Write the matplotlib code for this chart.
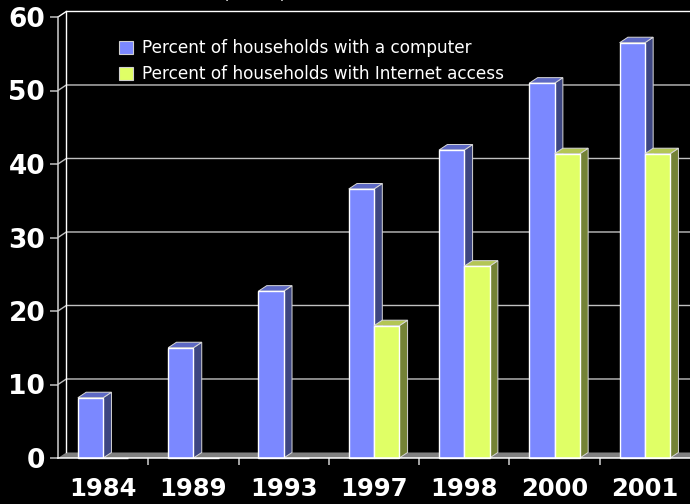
import matplotlib
matplotlib.use("Agg")
import matplotlib.pyplot as plt
from matplotlib.patches import Polygon, Patch
import numpy as np

# ---- data ----
years = ["1984", "1989", "1993", "1997", "1998", "2000", "2001"]
computer = [8.2, 15.0, 22.7, 36.6, 41.9, 51.0, 56.5]
internet = [np.nan, np.nan, np.nan, 18.0, 26.1, 41.4, 41.4]
series_labels = ["Percent of households with a computer",
                 "Percent of households with Internet access"]
yticks = [0, 10, 20, 30, 40, 50, 60]

# ---- style ----
BLUE_FRONT, BLUE_SIDE, BLUE_TOP = "#7B88FF", "#3D4681", "#5E69C4"
YEL_FRONT, YEL_SIDE, YEL_TOP = "#E0FF66", "#748236", "#B3C655"
FLOOR = "#808080"
GRID = "#C0C0C0"
BAR_W = 0.28
DX, DY = 0.092, 0.75   # pseudo-3D depth in data units

fig = plt.figure(figsize=(6.9, 5.04), dpi=100, facecolor="black")
ax = fig.add_axes([58 / 690, 46 / 504, 632 / 690, 441 / 504])
ax.set_facecolor("black")
ax.patch.set_alpha(0)
ax.set_xlim(-0.5, len(years) - 0.5)
ax.set_ylim(0, 60)

x = np.arange(len(years))
xl, xr = -0.5, len(years) - 0.5

# floor
ax.add_patch(Polygon([(xl, 0), (xr, 0), (xr + DX, DY), (xl + DX, DY)],
                     closed=True, facecolor=FLOOR, edgecolor="none",
                     zorder=1, clip_on=False))
# back wall gridlines (with side-wall diagonal)
for v in yticks[1:]:
    ax.plot([xl, xl + DX, xr + DX], [v, v + DY, v + DY],
            color="white" if v == 60 else GRID, lw=1.0, zorder=1.5,
            clip_on=False, solid_capstyle="butt")
ax.plot([xl + DX, xl + DX], [DY, 60 + DY], color="white", lw=1.0,
        zorder=1.5, clip_on=False)


def draw_bars(xs, vals, front, side, top, z):
    for xc, v in zip(xs, vals):
        if np.isnan(v):
            continue
        x0, x1 = xc, xc + BAR_W
        ax.add_patch(Polygon([(x1, 0), (x1 + DX, DY), (x1 + DX, v + DY), (x1, v)],
                             closed=True, facecolor=side, edgecolor="#D8D8D8",
                             lw=0.7, zorder=z, clip_on=False))
        ax.add_patch(Polygon([(x0, v), (x1, v), (x1 + DX, v + DY), (x0 + DX, v + DY)],
                             closed=True, facecolor=top, edgecolor="#D8D8D8",
                             lw=0.7, zorder=z, clip_on=False))
    ax.bar(np.asarray(xs) + BAR_W / 2, np.nan_to_num(vals), width=BAR_W,
           color=front, edgecolor="white", lw=1.0, zorder=z + 0.1,
           clip_on=False)


draw_bars(x - BAR_W, computer, BLUE_FRONT, BLUE_SIDE, BLUE_TOP, 3)
draw_bars(x, internet, YEL_FRONT, YEL_SIDE, YEL_TOP, 4)

# spines / ticks
for s in ["top", "right"]:
    ax.spines[s].set_visible(False)
ax.spines["left"].set_color("#D0D0D0")
ax.spines["bottom"].set_color("white")
ax.spines["left"].set_linewidth(1.1)
ax.spines["bottom"].set_linewidth(1.1)
ax.spines["bottom"].set_zorder(5)

ax.set_yticks(yticks)
ax.set_yticklabels([str(t) for t in yticks])
ax.tick_params(axis="y", colors="#C0C0C0", length=5.8, width=1.1, pad=3.4,
               labelcolor="white", labelsize=19)
ax.set_xticks(x)
ax.set_xticklabels(years)
ax.set_xticks(np.arange(0.5, len(years) - 0.5, 1.0), minor=True)
ax.tick_params(axis="x", which="major", length=0, pad=14,
               labelcolor="white", labelsize=17.5)
ax.tick_params(axis="x", which="minor", length=5.2, width=1.1,
               colors="#D0D0D0", direction="out")
for lab in ax.get_xticklabels() + ax.get_yticklabels():
    lab.set_fontfamily("DejaVu Sans")
    lab.set_fontweight("bold")

# legend
handles = [Patch(facecolor=BLUE_FRONT, edgecolor="#D0D0D0", lw=0.8),
           Patch(facecolor=YEL_FRONT, edgecolor="#D0D0D0", lw=0.8)]
leg = fig.legend(handles, series_labels, loc="upper left",
                 bbox_to_anchor=(119 / 690, 1 - 39 / 504), frameon=False,
                 prop={"family": "DejaVu Sans", "size": 12.2},
                 labelcolor="white", handlelength=0.8, handleheight=0.8,
                 handletextpad=0.55, labelspacing=0.48, borderpad=0,
                 borderaxespad=0)

# cut-off title fragment at the very top (as in the reference)
fig.text(255 / 690, 1 + 2 / 504, "(Percent)", color="white", ha="center",
         va="baseline", fontsize=11, family="Liberation Sans")

fig.savefig("out.png", dpi=100, facecolor="black")
